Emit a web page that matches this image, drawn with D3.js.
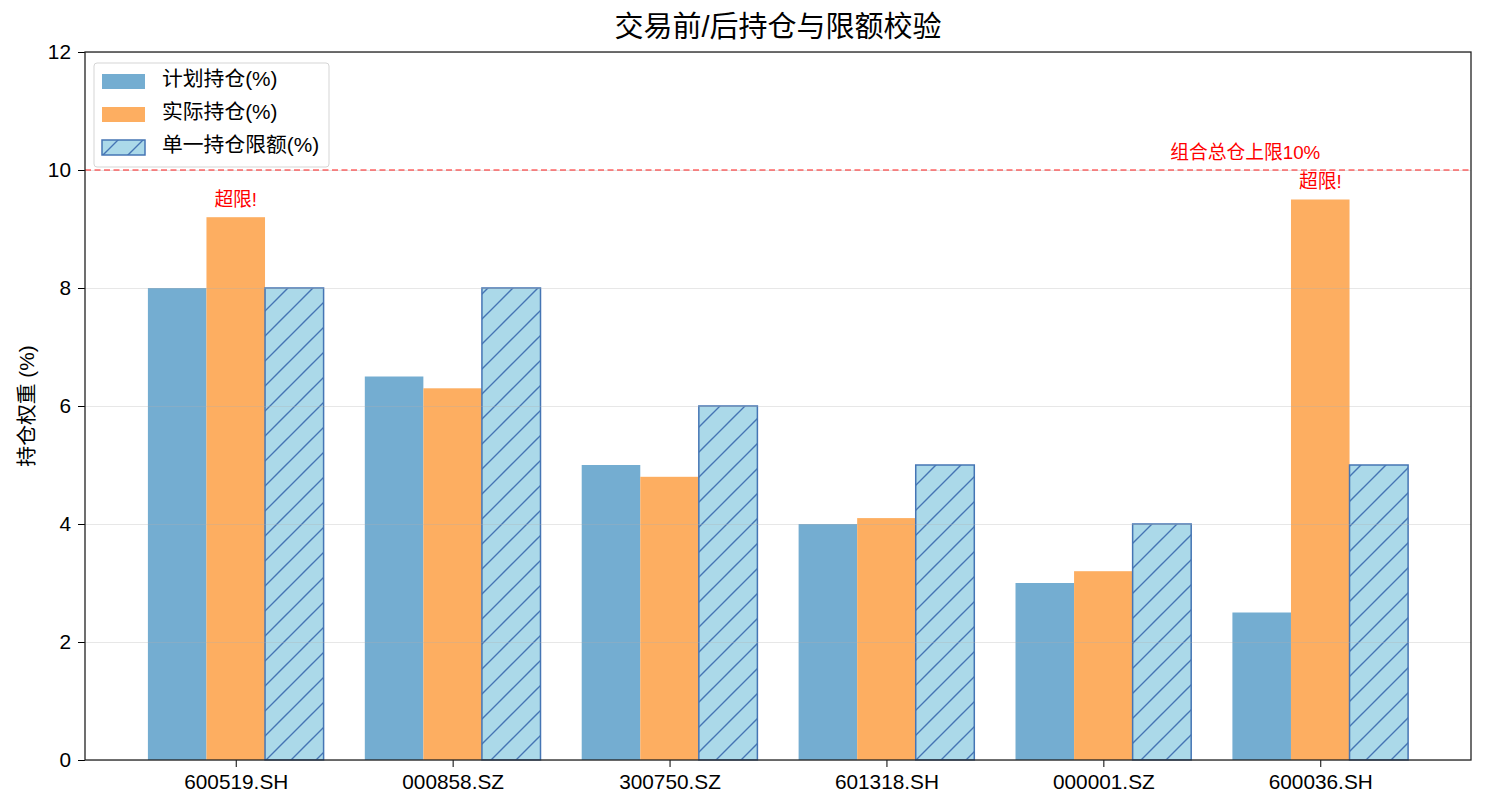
<!DOCTYPE html>
<html>
<head>
<meta charset="utf-8">
<script src="https://cdn.jsdelivr.net/npm/d3@7"></script>
<style>
  body { margin: 0; background: #fff; }
  svg text { font-family: "Liberation Sans", Arial, "Noto Sans CJK SC", sans-serif; }
</style>
</head>
<body>
<div id="chart"></div>
<script>
// data
var codes = ["600519.SH", "000858.SZ", "300750.SZ", "601318.SH", "000001.SZ", "600036.SH"]
var planned = [8, 6.5, 5, 4, 3, 2.5]
var actual = [9.2, 6.3, 4.8, 4.1, 3.2, 9.5]
var limits = [8, 8, 6, 5, 4, 5]
var yTicks = [0, 2, 4, 6, 8, 10, 12]
var totalCap = 10
var seriesNames = ["计划持仓(%)", "实际持仓(%)", "单一持仓限额(%)"]

var width = 1486, height = 810
var margin = {top: 52, right: 15, bottom: 50, left: 85}
var barW = 0.27

var svg = d3.select("#chart")
  .append("svg")
  .attr("width", width)
  .attr("height", height)

var defs = svg.append("defs")
var pat = defs.append("pattern")
  .attr("id", "hatch")
  .attr("patternUnits", "userSpaceOnUse")
  .attr("x", 1)
  .attr("width", 25)
  .attr("height", 25)
pat.append("rect").attr("width", 25).attr("height", 25).attr("fill", "#abd9e9")
pat.append("path")
  .attr("d", "M-2,2 L2,-2 M0,25 L25,0 M23,27 L27,23")
  .attr("stroke", "#4575b4")
  .attr("stroke-width", 1.4)

var xScale = d3.scaleLinear()
  .domain([-0.695, codes.length - 1 + 0.695])
  .range([margin.left, width - margin.right])

var yScale = d3.scaleLinear()
  .domain([0, 12])
  .range([height - margin.bottom, margin.top])

// bars
var series = [
  {vals: planned, off: -1, fill: "#74add1", stroke: "none"},
  {vals: actual, off: 0, fill: "#fdae61", stroke: "none"},
  {vals: limits, off: 1, fill: "url(#hatch)", stroke: "#4575b4"}
]
var barPx = xScale(barW) - xScale(0)

series.forEach(function(s) {
  svg.append("g")
    .selectAll("rect")
    .data(s.vals)
    .enter()
    .append("rect")
    .attr("x", (d, i) => xScale(i + s.off * barW - barW / 2))
    .attr("y", d => yScale(d))
    .attr("width", barPx)
    .attr("height", d => yScale(0) - yScale(d))
    .attr("fill", s.fill)
    .attr("stroke", s.stroke)
    .attr("stroke-width", 1.5)
})

// grid
svg.append("g")
  .attr("transform", `translate(${margin.left},0)`)
  .call(d3.axisLeft(yScale).tickValues(yTicks).tickSize(-(width - margin.left - margin.right)).tickFormat(""))
  .call(g => g.select(".domain").remove())
  .selectAll("line")
  .attr("stroke", "#b0b0b0")
  .attr("stroke-opacity", 0.3)

// total cap line
svg.append("line")
  .attr("x1", margin.left)
  .attr("x2", width - margin.right)
  .attr("y1", yScale(totalCap))
  .attr("y2", yScale(totalCap))
  .attr("stroke", "red")
  .attr("stroke-opacity", 0.6)
  .attr("stroke-width", 1.5)
  .attr("stroke-dasharray", "6,3.5")

svg.append("text")
  .attr("x", xScale(codes.length - 1))
  .attr("y", yScale(totalCap + 0.2) + 1)
  .attr("text-anchor", "end")
  .attr("fill", "red")
  .style("font-size", "18.75px")
  .text("组合总仓上限10%")

// over-limit labels
svg.append("g")
  .selectAll("text")
  .data(actual.map((v, i) => ({v: v, i: i})).filter(d => d.v > limits[d.i]))
  .enter()
  .append("text")
  .attr("x", d => xScale(d.i))
  .attr("y", d => yScale(d.v + 0.2) + 0.5)
  .attr("text-anchor", "middle")
  .attr("fill", "red")
  .style("font-size", "18.75px")
  .text("超限!")

// axes
var xAxis = d3.axisBottom(xScale)
  .tickValues(d3.range(codes.length))
  .tickFormat(i => codes[i])
  .tickSize(7)
  .tickPadding(7)
  .tickSizeOuter(0)

svg.append("g")
  .attr("transform", `translate(0,${height - margin.bottom})`)
  .call(xAxis)
  .call(g => g.select(".domain").remove())
  .selectAll("text")
  .style("font-size", "20.8px")

svg.append("g")
  .attr("transform", `translate(${margin.left},0)`)
  .call(d3.axisLeft(yScale).tickValues(yTicks).tickSize(7).tickPadding(7))
  .call(g => g.select(".domain").remove())
  .selectAll("text")
  .style("font-size", "20.8px")

svg.append("rect")
  .attr("x", margin.left)
  .attr("y", margin.top)
  .attr("width", width - margin.left - margin.right)
  .attr("height", height - margin.top - margin.bottom)
  .attr("fill", "none")
  .attr("stroke", "#222")
  .attr("stroke-width", 1.3)

// title and y label
svg.append("text")
  .attr("x", (margin.left + width - margin.right) / 2)
  .attr("y", 37)
  .attr("text-anchor", "middle")
  .style("font-size", "29px")
  .text("交易前/后持仓与限额校验")

svg.append("text")
  .attr("transform", `translate(34,${(margin.top + height - margin.bottom) / 2}) rotate(-90)`)
  .attr("text-anchor", "middle")
  .style("font-size", "20.8px")
  .text("持仓权重 (%)")

// legend
var legend = svg.append("g").attr("transform", "translate(94,63)")
legend.append("rect")
  .attr("width", 235)
  .attr("height", 104)
  .attr("rx", 3)
  .attr("fill", "white")
  .attr("fill-opacity", 0.8)
  .attr("stroke", "#d5d5d5")

var legendFills = ["#74add1", "#fdae61", "url(#hatch)"]
var legendStrokes = ["none", "none", "#4575b4"]
seriesNames.forEach(function(name, i) {
  legend.append("rect")
    .attr("x", 8)
    .attr("y", 11 + i * 33)
    .attr("width", 43)
    .attr("height", 15)
    .attr("fill", legendFills[i])
    .attr("stroke", legendStrokes[i])
    .attr("stroke-width", 1.5)
  legend.append("text")
    .attr("x", 68)
    .attr("y", 23 + i * 33)
    .style("font-size", "20.8px")
    .text(name)
})
</script>
</body>
</html>
